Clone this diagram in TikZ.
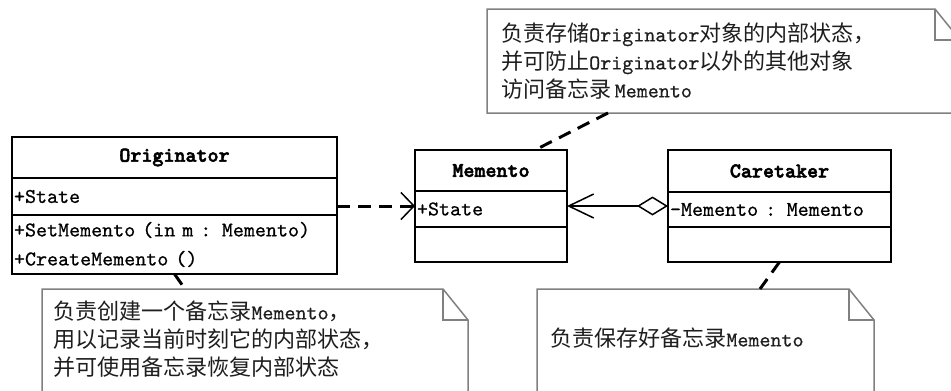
\documentclass[tikz,border=0pt]{standalone}
\usepackage{fontspec}
\usepackage{tikz}
\usetikzlibrary{arrows.meta, positioning}
\newfontfamily\umlfont{lmmono10-regular.otf}[BoldFont=lmmonolt10-bold.otf, BoldFeatures={FakeBold=2.5}, FakeBold=0.6, WordSpace={1,0,0}]
\newfontfamily\cjk{Noto Sans CJK SC}[Scale=1.05]
\definecolor{noteline}{RGB}{128, 128, 128}
\definecolor{notetext}{RGB}{30, 30, 30}

\begin{document}
\begin{tikzpicture}[x=1pt, y=-1pt,
    classhead/.style={draw, line width=2pt, inner sep=0pt, outer sep=0pt, minimum height=41pt, font=\umlfont\fontsize{21}{28}\selectfont\bfseries},
    classpart/.style={draw, line width=2pt, inner xsep=2pt, inner ysep=0pt, outer sep=0pt, align=left, font=\umlfont\fontsize{21}{29}\selectfont},
    notebox/.style={anchor=north west, inner ysep=0pt, outer sep=0pt, align=left, text=notetext, font=\umlfont\fontsize{21}{28}\selectfont},
    noteedge/.style={draw=noteline, line width=1.5pt},
    anchorline/.style={draw, line width=3pt, dash pattern=on 13pt off 8pt},
    depend/.style={draw, line width=3pt, dash pattern=on 13pt off 8pt, -{Straight Barb[length=13pt, width=27pt, line width=1.5pt]}},
    aggregate/.style={draw, line width=1.5pt, {Diamond[open, length=31pt, width=19pt, line width=1.5pt]}-{Straight Barb[length=25pt, width=24pt, line width=1.5pt]}}]

    \clip (0,0) rectangle (951,391);
    \fill[white] (0,0) rectangle (951,391);

    % classes
    \node [classhead, anchor=north west, minimum width=325pt] (orighead) at (12,137) {Originator};
    \node [classpart, below=0pt of orighead, minimum width=325pt, text width=321pt, minimum height=37pt] (origattr) {+State};
    \node [classpart, below=0pt of origattr, minimum width=325pt, text width=321pt, minimum height=59pt] (origmeth) {+SetMemento (in m : Memento)\\+CreateMemento ()};

    \node [classhead, anchor=north west, minimum width=152pt] (memhead) at (415,150) {Memento};
    \node [classpart, below=0pt of memhead, minimum width=152pt, text width=148pt, minimum height=36pt] (memattr) {+State};
    \node [classpart, below=0pt of memattr, minimum width=152pt, text width=148pt, minimum height=35pt] (memmeth) {};

    \node [classhead, anchor=north west, minimum width=223pt, minimum height=42pt] (carehead) at (668,150) {Caretaker};
    \node [classpart, below=0pt of carehead, minimum width=223pt, text width=219pt, minimum height=35pt] (careattr) {-Memento : Memento};
    \node [classpart, below=0pt of careattr, minimum width=223pt, text width=219pt, minimum height=35pt] (caremeth) {};

    % notes
    \node [notebox, inner xsep=14pt, minimum width=473pt, text width=445pt, minimum height=104pt] (memnote) at (487,9)
        {{\cjk 负责存储}Originator{\cjk 对象的内部状态，}\\{\cjk 并可防止}Originator{\cjk 以外的其他对象}\\{\cjk 访问备忘录}\,Memento};
    \node [notebox, inner xsep=11pt, minimum width=426pt, text width=404pt, minimum height=100pt] (orignote) at (42,289)
        {{\cjk 负责创建一个备忘录}Memento{\cjk ，}\\{\cjk 用以记录当前时刻它的内部状态，}\\{\cjk 并可使用备忘录恢复内部状态}};
    \node [notebox, inner xsep=13pt, minimum width=337pt, text width=311pt, minimum height=98pt] (carenote) at (537,289)
        {{\cjk 负责保存好备忘录}Memento};

    \path [noteedge] (memnote.south west) -- (memnote.north west) -- ([xshift=-25pt]memnote.north east) -- ([yshift=-31pt]memnote.north east) -- (memnote.south east) -- cycle;
    \path [noteedge] ([xshift=-25pt]memnote.north east) |- ([yshift=-31pt]memnote.north east);
    \path [noteedge] ([yshift=-30pt]orignote.south west) -- (orignote.north west) -- ([xshift=-25pt]orignote.north east) -- ([yshift=-31pt]orignote.north east) -- ([yshift=-30pt]orignote.south east);
    \path [noteedge] ([xshift=-25pt]orignote.north east) |- ([yshift=-31pt]orignote.north east);
    \path [noteedge] ([yshift=-30pt]carenote.south west) -- (carenote.north west) -- ([xshift=-25pt]carenote.north east) -- ([yshift=-31pt]carenote.north east) -- ([yshift=-30pt]carenote.south east);
    \path [noteedge] ([xshift=-25pt]carenote.north east) |- ([yshift=-31pt]carenote.north east);

    % relations
    \coordinate (depin) at ([yshift=3pt]memattr.west);
    \coordinate (aggin) at ([yshift=3pt]memattr.east);
    \path [depend] (origattr.east |- depin) -- (depin);
    \path [aggregate] (careattr.west |- aggin) -- (aggin);

    % note anchors
    \path [anchorline] ([xshift=121pt]memnote.south west) -- ([xshift=44pt]memhead.north);
    \path [anchorline] (origmeth.south) -- ([xshift=143pt]orignote.north west);
    \path [anchorline] (caremeth.south) -- ([xshift=223pt]carenote.north west);
\end{tikzpicture}
\end{document}
